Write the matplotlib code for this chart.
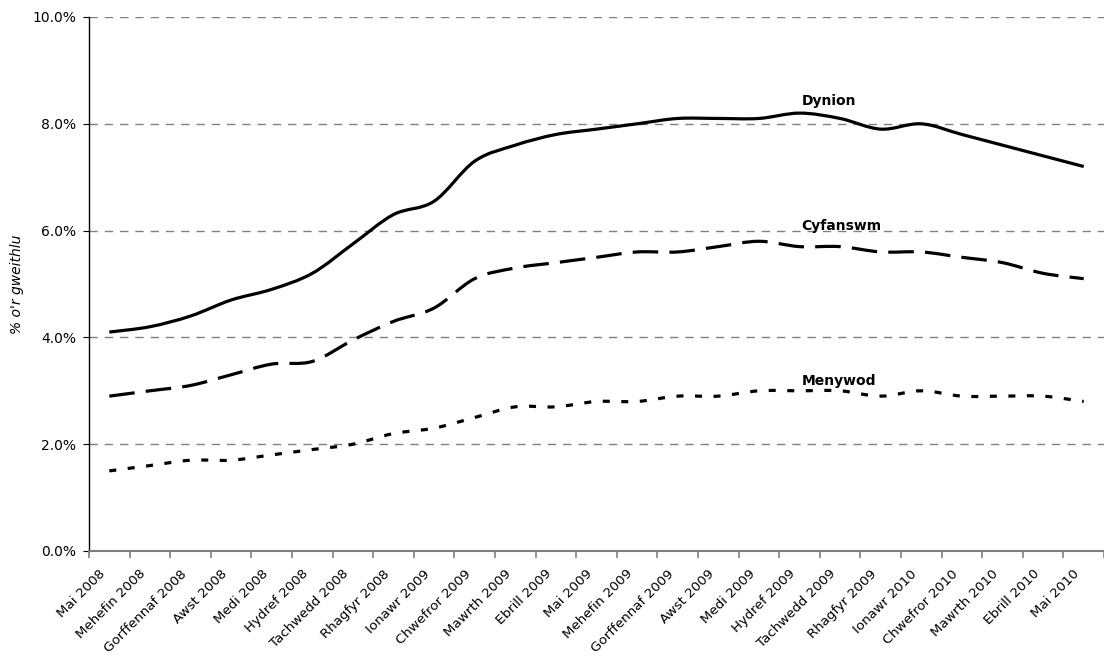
import numpy as np
import matplotlib
matplotlib.use("Agg")
import matplotlib.pyplot as plt
from matplotlib.path import Path
from matplotlib.patches import PathPatch
from matplotlib.ticker import FixedLocator, FuncFormatter, NullFormatter
from matplotlib.transforms import ScaledTranslation

months = ["Mai 2008", "Mehefin 2008", "Gorffennaf 2008", "Awst 2008", "Medi 2008",
          "Hydref 2008", "Tachwedd 2008", "Rhagfyr 2008", "Ionawr 2009", "Chwefror 2009",
          "Mawrth 2009", "Ebrill 2009", "Mai 2009", "Mehefin 2009", "Gorffennaf 2009",
          "Awst 2009", "Medi 2009", "Hydref 2009", "Tachwedd 2009", "Rhagfyr 2009",
          "Ionawr 2010", "Chwefror 2010", "Mawrth 2010", "Ebrill 2010", "Mai 2010"]

dynion = [4.1, 4.2, 4.4, 4.7, 4.9, 5.2, 5.75, 6.3, 6.55, 7.3, 7.6, 7.8, 7.9,
          8.0, 8.1, 8.1, 8.1, 8.2, 8.1, 7.9, 8.0, 7.8, 7.6, 7.4, 7.2]
cyfanswm = [2.9, 3.0, 3.1, 3.3, 3.5, 3.55, 3.95, 4.3, 4.55, 5.1, 5.3, 5.4, 5.5,
            5.6, 5.6, 5.7, 5.8, 5.7, 5.7, 5.6, 5.6, 5.5, 5.4, 5.2, 5.1]
menywod = [1.5, 1.6, 1.7, 1.7, 1.8, 1.9, 2.0, 2.2, 2.3, 2.5, 2.7, 2.7, 2.8,
           2.8, 2.9, 2.9, 3.0, 3.0, 3.0, 2.9, 3.0, 2.9, 2.9, 2.9, 2.8]

series_names = ["Dynion", "Cyfanswm", "Menywod"]
y_ticks = [0, 2, 4, 6, 8, 10]
y_label = "% o'r gweithlu"


def smooth_path(xs, ys):
    """Bezier path through the points (Excel-style smoothed line)."""
    pts = np.column_stack([xs, ys]).astype(float)
    n = len(pts)
    verts = [pts[0]]
    codes = [Path.MOVETO]
    for i in range(n - 1):
        p0 = pts[i - 1] if i > 0 else pts[i]
        p1 = pts[i]
        p2 = pts[i + 1]
        p3 = pts[i + 2] if i + 2 < n else pts[i + 1]
        c1 = p1 + (p2 - p0) / 6.0
        c2 = p2 - (p3 - p1) / 6.0
        verts += [c1, c2, p2]
        codes += [Path.CURVE4] * 3
    return Path(verts, codes)


fig = plt.figure(figsize=(11.04, 6.61), dpi=100)
ax = fig.add_axes([89 / 1104, 1 - 551 / 661, 1015 / 1104, (551 - 17) / 661])

x = np.arange(len(months))
styles = [
    dict(linestyle="-"),
    dict(linestyle=(0, (8, 3.5))),
    dict(linestyle=(0, (2.2, 3.6))),
]
for vals, st in zip([dynion, cyfanswm, menywod], styles):
    patch = PathPatch(smooth_path(x, vals), facecolor="none", edgecolor="black",
                      linewidth=2.3, capstyle="butt", joinstyle="round", zorder=3, **st)
    ax.add_patch(patch)

ax.set_xlim(-0.5, len(months) - 0.5)
ax.set_ylim(0, 10)

# grid
ax.set_yticks(y_ticks)
ax.yaxis.set_major_formatter(FuncFormatter(lambda v, p: f"{v:.1f}%"))
ax.grid(axis="y", color="#808080", linestyle=(0, (6, 5)), linewidth=1.0, zorder=0)
ax.set_axisbelow(True)

# x ticks at category boundaries, labels at centres
ax.xaxis.set_major_locator(FixedLocator(np.arange(-0.5, len(months) + 0.5, 1)))
ax.xaxis.set_major_formatter(NullFormatter())
ax.xaxis.set_minor_locator(FixedLocator(x))
ax.set_xticklabels(months, minor=True, rotation=45, ha="right",
                   rotation_mode="anchor", fontsize=9.6)
ax.tick_params(axis="x", which="minor", length=0, pad=15)
ax.tick_params(axis="x", which="major", length=5, color="#808080", width=1.2)
ax.tick_params(axis="y", length=4, color="black", labelsize=10, pad=5)

offset = ScaledTranslation(-6 / 100, 0, fig.dpi_scale_trans)
for lab in ax.get_xticklabels(minor=True):
    lab.set_va("center")
    lab.set_transform(lab.get_transform() + offset)

for s in ["top", "right"]:
    ax.spines[s].set_visible(False)
ax.spines["bottom"].set_color("#808080")
ax.spines["bottom"].set_linewidth(1.5)
ax.spines["left"].set_color("black")
ax.spines["left"].set_linewidth(1.0)

ax.set_ylabel(y_label, fontstyle="italic", fontsize=10, labelpad=6)

label_y = [8.43, 6.09, 3.19]
for name, ly in zip(series_names, label_y):
    ax.text(17.05, ly, name, fontweight="bold", fontsize=10, ha="left", va="center")

fig.savefig("out.png", dpi=100)
